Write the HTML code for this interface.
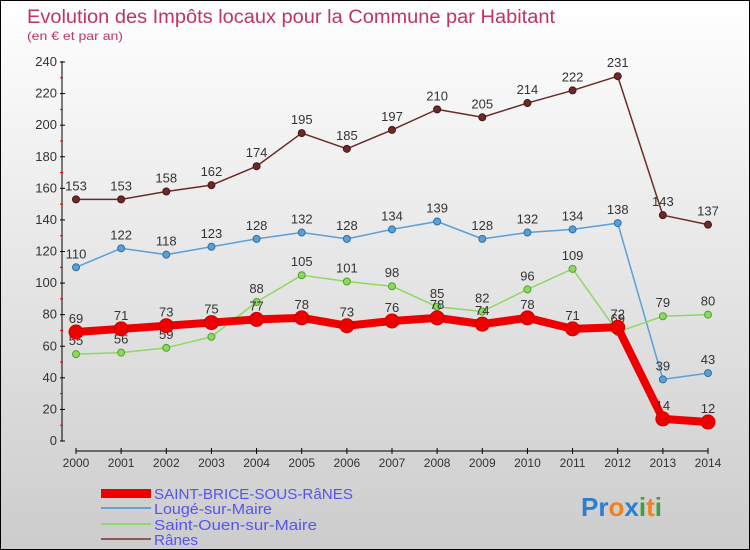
<!DOCTYPE html>
<html><head><meta charset="utf-8"><style>
body{margin:0}
#wrap{width:748px;height:548px;border:1px solid #000;position:relative;background:linear-gradient(#fff,#ccc);font-family:"Liberation Sans",sans-serif;overflow:hidden}
</style></head><body>
<div id="wrap">
<svg id="svg" width="748" height="548" font-family="Liberation Sans, sans-serif">
<text x="26" y="22" font-size="19" fill="#c0345e" textLength="528" lengthAdjust="spacingAndGlyphs">Evolution des Impôts locaux pour la Commune par Habitant</text>
<text x="26" y="39" font-size="12" fill="#c0345e" textLength="96" lengthAdjust="spacingAndGlyphs">(en € et par an)</text>
<g id="axes"></g><g id="series"></g>
<g font-size="15" fill="#5555ee">
<rect x="100" y="488" width="50" height="9" fill="#e00"/>
<text x="153" y="498" textLength="199" lengthAdjust="spacingAndGlyphs">SAINT-BRICE-SOUS-RâNES</text>
<rect x="100" y="506" width="50" height="2" fill="#6a9fd0"/>
<text x="153" y="513" textLength="118" lengthAdjust="spacingAndGlyphs">Lougé-sur-Maire</text>
<rect x="100" y="522" width="50" height="2" fill="#8fd870"/>
<text x="153" y="529" textLength="163" lengthAdjust="spacingAndGlyphs">Saint-Ouen-sur-Maire</text>
<rect x="100" y="537" width="50" height="2" fill="#8a5a5a"/>
<text x="153" y="544" textLength="44" lengthAdjust="spacingAndGlyphs">Rânes</text>
</g>
<text x="580" y="515" font-size="26" font-weight="bold"><tspan fill="#2a7fd0">Pr</tspan><tspan fill="#f08020">o</tspan><tspan fill="#2a7fd0">x</tspan><tspan fill="#40a040">i</tspan><tspan fill="#f08020">t</tspan><tspan fill="#40a040">i</tspan></text>
</svg></div>
<script>
const years=[2000,2001,2002,2003,2004,2005,2006,2007,2008,2009,2010,2011,2012,2013,2014];
const saintBrice=[69,71,73,75,77,78,73,76,78,74,78,71,72,14,12];
const louge=[110,122,118,123,128,132,128,134,139,128,132,134,138,39,43];
const saintOuen=[55,56,59,66,88,105,101,98,85,82,96,109,69,79,80];
const ranes=[153,153,158,162,174,195,185,197,210,205,214,222,231,143,137];
const yTicks=[0,20,40,60,80,100,120,140,160,180,200,220,240];
const NS="http://www.w3.org/2000/svg";
const X=i=>75+i*(707-75)/14, Y=v=>440-v*(379/240);
function mk(t,a,p){const e=document.createElementNS(NS,t);for(const k in a)e.setAttribute(k,a[k]);p.appendChild(e);return e;}
const ax=document.getElementById('axes'),sg=document.getElementById('series');
let e=mk('line',{x1:61,y1:60,x2:61,y2:440,stroke:'#000'},ax);

e=mk('line',{x1:75,y1:450,x2:707,y2:450,stroke:'#000'},ax);

yTicks.forEach(v=>{mk('line',{x1:59,x2:64,y1:Y(v),y2:Y(v),stroke:'#000'},ax);
 if(v<240)mk('line',{x1:59,x2:62,y1:Y(v+10),y2:Y(v+10),stroke:'#e00'},ax);
 const t=mk('text',{x:56,y:Y(v)+4,'text-anchor':'end','font-size':13,fill:'#333'},ax);t.textContent=v;
 });
years.forEach((y,i)=>{mk('line',{x1:X(i),x2:X(i),y1:447,y2:453,stroke:'#000'},ax);
 const t=mk('text',{x:X(i),y:466,'text-anchor':'middle','font-size':12,fill:'#333'},ax);t.textContent=y;
 });
function series(d,col,w,r,name,dark){
 const pts=d.map((v,i)=>X(i)+','+Y(v)).join(' ');
 const p=mk('polyline',{points:pts,fill:'none',stroke:col,'stroke-width':w,'stroke-linejoin':'round'},sg);
 
 d.forEach((v,i)=>{const c=mk('circle',{cx:X(i),cy:Y(v),r:r,fill:col,stroke:dark,'stroke-width':1},sg);
  
  const t=mk('text',{x:X(i),y:Y(v)-9,'text-anchor':'middle','font-size':13,fill:'#333'},sg);t.textContent=v;
  });
}
series(ranes,'#6a2a2a',1.5,3.5,'ranes','#4a1515');
series(louge,'#5a9fd8',1.5,3.5,'louge','#3070a0');
series(saintOuen,'#8fd860',1.5,3.5,'saint-ouen','#50a030');
series(saintBrice,'#ee0000',8,7,'saint-brice','#c00');
</script>
</body></html>
